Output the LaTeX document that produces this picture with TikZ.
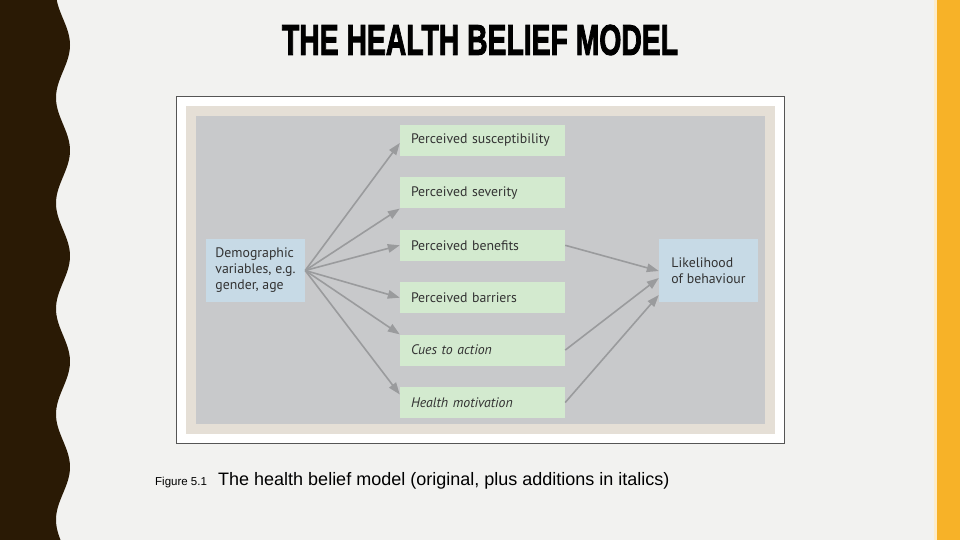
\documentclass[tikz,border=0pt]{standalone}
\usepackage{fontspec}
\usepackage{xcolor}
\usepackage{graphicx}
\usetikzlibrary{positioning, arrows.meta}
\setmainfont{Liberation Sans}
\newfontfamily\boxfont{PT Sans}
\newfontfamily\titlefont[BoldFeatures={FakeBold=2.5}]{Liberation Sans}
\definecolor{page}{HTML}{F2F2F0}
\definecolor{band}{HTML}{2A1A05}
\definecolor{sunny}{HTML}{F7B228}
\definecolor{beige}{HTML}{E5DFD6}
\definecolor{panel}{HTML}{C8C9CB}
\definecolor{mint}{HTML}{D3EACF}
\definecolor{skyblue}{HTML}{C7DAE6}
\definecolor{linkgray}{HTML}{9A9B9D}
\definecolor{ink}{HTML}{333333}
\definecolor{framegray}{HTML}{555555}

\begin{document}
\begin{tikzpicture}[
        x=1pt, y=1pt,
        node distance=21pt,
        factor/.style={rectangle, fill=mint, text=ink, font=\boxfont\fontsize{13.8}{16}\selectfont, minimum height=31pt, text width=143pt, inner xsep=11pt, align=left},
        side/.style={rectangle, fill=skyblue, text=ink, font=\boxfont\fontsize{13.8}{16}\selectfont, minimum height=63pt, minimum width=99pt, align=left},
        link/.style={draw=linkgray, line width=1.6pt, -{Triangle[length=12pt, width=8.5pt]}}
    ]
        % Slide background
        \useasboundingbox (0,0) rectangle (960,540);
        \fill[page] (0,0) rectangle (960,540);
        \fill[band] (0,0) -- plot[domain=0:540, samples=181, smooth] ({63+7*cos(3.4123*(495-\x))}, \x) -- (0,540) -- cycle;
        \fill[sunny!25] (934,0) rectangle (937,540);
        \fill[sunny] (937,0) rectangle (960,540);

        % Title
        \node (title) at (480,500) {\resizebox{396pt}{30pt}{\titlefont\bfseries THE HEALTH BELIEF MODEL}};

        % Figure frame
        \draw[draw=framegray, fill=white, line width=1pt] (176.5,96.5) rectangle (784.5,443.5);
        \fill[beige] (186,106) rectangle (775,434);
        \fill[panel] (196,116) rectangle (765,424);

        % Nodes
        \node (sus) [factor] at (482.5,399.5) {Perceived susceptibility};
        \node (sev) [factor, below=of sus] {Perceived severity};
        \node (ben) [factor, below=of sev] {Perceived benefits};
        \node (bar) [factor, below=of ben] {Perceived barriers};
        \node (cue) [factor, below=of bar] {\itshape Cues to action};
        \node (mot) [factor, below=of cue] {\itshape Health motivation};

        \node (demo) [side] at (255.5,269.5) {Demographic\\ variables, e.g.\\ gender, age};
        \node (lik) [side] at (708.5,269) {Likelihood\\ of behaviour};

        % Arrows
        \draw [link] (demo.east) -- ([yshift=-2.5pt]sus.west);
        \draw [link] (demo.east) -- (sev.south west);
        \draw [link] (demo.east) -- (ben.west);
        \draw [link] (demo.east) -- (bar.west);
        \draw [link] (demo.east) -- (cue.north west);
        \draw [link] (demo.east) -- ([yshift=8pt]mot.west);

        \draw [link] (ben.east) -- (lik.west);
        \draw [link] (cue.east) -- ([yshift=-7pt]lik.west);
        \draw [link] (mot.east) -- ([yshift=-24pt]lik.west);

        % Caption
        \node (fig) [anchor=base west, inner sep=0pt, font=\fontsize{11.5}{13}\selectfont] at (155,54) {Figure 5.1};
        \node (cap) [anchor=base west, inner sep=0pt, font=\fontsize{18}{21}\selectfont] at (218,54) {The health belief model (original, plus additions in italics)};
    \end{tikzpicture}
\end{document}
